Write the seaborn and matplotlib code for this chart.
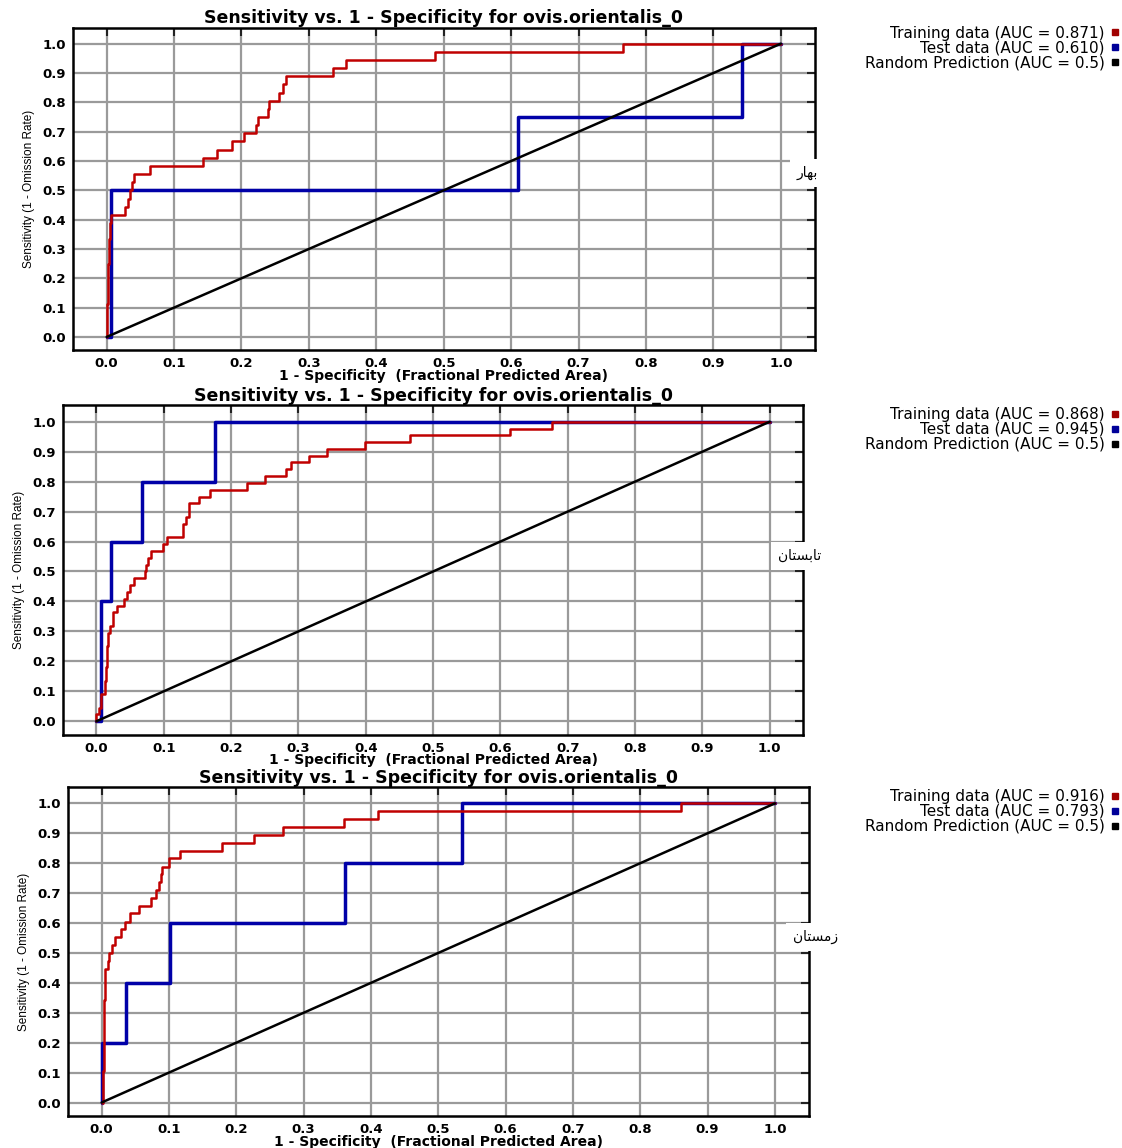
#ROC curves (MaxEnt output) for ovis.orientalis, three seasons stacked

import seaborn as sns
import matplotlib.pyplot as plt
from matplotlib.lines import Line2D

# step points: at each fpr the curve jumps up to the matching tpr
spring_train_fpr = [0.0, 0.0, 0.002, 0.004, 0.005, 0.007, 0.027, 0.031, 0.034, 0.037, 0.041, 0.064, 0.143,
                    0.164, 0.186, 0.204, 0.222, 0.224, 0.239, 0.241, 0.255, 0.262, 0.266, 0.336, 0.355,
                    0.487, 0.766, 1.0]
spring_train_tpr = [0.0, 0.111, 0.25, 0.333, 0.389, 0.417, 0.444, 0.472, 0.5, 0.528, 0.556, 0.583, 0.611,
                    0.639, 0.667, 0.694, 0.722, 0.75, 0.778, 0.806, 0.833, 0.861, 0.889, 0.917, 0.944,
                    0.972, 1.0, 1.0]
spring_test_fpr = [0.0, 0.006, 0.007, 0.61, 0.942, 1.0]
spring_test_tpr = [0.0, 0.25, 0.5, 0.75, 1.0, 1.0]

summer_train_fpr = [0.0, 0.0, 0.004, 0.006, 0.012, 0.013, 0.014, 0.015, 0.017, 0.02, 0.025, 0.031, 0.041,
                    0.046, 0.05, 0.055, 0.072, 0.074, 0.077, 0.081, 0.099, 0.104, 0.128, 0.129, 0.133,
                    0.137, 0.152, 0.168, 0.223, 0.251, 0.282, 0.289, 0.316, 0.342, 0.399, 0.466, 0.614,
                    0.676, 1.0]
summer_train_tpr = [0.0, 0.023, 0.045, 0.091, 0.114, 0.136, 0.182, 0.25, 0.295, 0.318, 0.364, 0.386, 0.409,
                    0.432, 0.455, 0.477, 0.5, 0.523, 0.545, 0.568, 0.591, 0.614, 0.636, 0.659, 0.682,
                    0.727, 0.75, 0.773, 0.795, 0.818, 0.841, 0.864, 0.886, 0.909, 0.932, 0.955, 0.977,
                    1.0, 1.0]
summer_test_fpr = [0.0, 0.007, 0.021, 0.067, 0.176, 1.0]
summer_test_tpr = [0.0, 0.4, 0.6, 0.8, 1.0, 1.0]

winter_train_fpr = [0.0, 0.002, 0.003, 0.005, 0.009, 0.011, 0.015, 0.02, 0.029, 0.035, 0.042, 0.055, 0.073,
                    0.08, 0.085, 0.088, 0.09, 0.1, 0.116, 0.179, 0.227, 0.269, 0.36, 0.41, 0.86, 1.0]
winter_train_tpr = [0.0, 0.105, 0.342, 0.447, 0.474, 0.5, 0.526, 0.553, 0.579, 0.605, 0.632, 0.658, 0.684,
                    0.711, 0.737, 0.763, 0.789, 0.816, 0.842, 0.868, 0.895, 0.921, 0.947, 0.974, 1.0, 1.0]
winter_test_fpr = [0.0, 0.0, 0.036, 0.102, 0.361, 0.535, 1.0]
winter_test_tpr = [0.0, 0.2, 0.4, 0.6, 0.8, 1.0, 1.0]

random_x = [0.0, 1.0]
random_y = [0.0, 1.0]

train_auc = ["0.871", "0.868", "0.916"]
test_auc = ["0.610", "0.945", "0.793"]

# season names (spring, summer, winter) written as shaped Arabic-script glyphs in visual order
season_labels = ["\uFEAD\uFE8E\uFEEC\uFE91",
                 "\uFEE5\uFE8E\uFE98\uFEB4\uFE91\uFE8E\uFE97",
                 "\uFEE5\uFE8E\uFE98\uFEB4\uFEE3\uFEAF"]

tick_values = [0.0, 0.1, 0.2, 0.3, 0.4, 0.5, 0.6, 0.7, 0.8, 0.9, 1.0]
tick_labels = ["0.0", "0.1", "0.2", "0.3", "0.4", "0.5", "0.6", "0.7", "0.8", "0.9", "1.0"]

title = "Sensitivity vs. 1 - Specificity for ovis.orientalis_0"

RED = "#c00000"
BLUE = "#0000a8"
LEG_RED = "#a00000"
LEG_BLUE = "#000099"

sns.set_theme(style="whitegrid", rc={'text.color': 'black', 'axes.labelcolor': 'black',
                                     'xtick.color': 'black', 'ytick.color': 'black'})
plt.rcParams['font.family'] = ['DejaVu Sans']

fig = plt.figure(figsize=(11.22, 11.48), dpi=100)

panels = [
    ([0.065, 0.695, 0.661, 0.281], spring_train_fpr, spring_train_tpr, spring_test_fpr, spring_test_tpr,
     0.9775, 0.99, 0.548),
    ([0.056, 0.360, 0.660, 0.287], summer_train_fpr, summer_train_tpr, summer_test_fpr, summer_test_tpr,
     0.6456, 0.995, 0.542),
    ([0.0606, 0.0279, 0.660, 0.2866], winter_train_fpr, winter_train_tpr, winter_test_fpr, winter_test_tpr,
     0.3128, 1.009, 0.544),
]

for i, (pos, train_x, train_y, test_x, test_y, leg_top, lab_x, lab_y) in enumerate(panels):
    ax = fig.add_axes(pos)
    sns.lineplot(x=test_x, y=test_y, ax=ax, color=BLUE, linewidth=2.5, drawstyle='steps-post',
                 estimator=None, sort=False)
    sns.lineplot(x=train_x, y=train_y, ax=ax, color=RED, linewidth=1.8, drawstyle='steps-post',
                 estimator=None, sort=False)
    sns.lineplot(x=random_x, y=random_y, ax=ax, color='black', linewidth=1.8,
                 estimator=None, sort=False)

    ax.set_xlim(-0.05, 1.05)
    ax.set_ylim(-0.045, 1.055)
    ax.set_xticks(tick_values)
    ax.set_xticklabels(tick_labels, fontweight='bold')
    ax.set_yticks(tick_values)
    ax.set_yticklabels(tick_labels, fontweight='bold')
    ax.tick_params(direction='in', length=6, width=1.5, color='#222222', top=True, right=True,
                   labelsize=9.5, pad=5, labelcolor='black')
    ax.grid(True, color='#9a9a9a', linewidth=1.6)
    for sp in ax.spines.values():
        sp.set_color('black')
        sp.set_linewidth(1.8)

    ax.set_title(title, fontsize=12.5, fontweight='bold', pad=3)
    ax.set_xlabel("1 - Specificity  (Fractional Predicted Area)", fontsize=10, fontweight='bold',
                  labelpad=-1)
    ax.set_ylabel("Sensitivity (1 - Omission Rate)", fontsize=8.5,
                  family=['Liberation Sans', 'DejaVu Sans'], labelpad=5)

    ax.text(lab_x, lab_y, season_labels[i], transform=ax.transAxes, ha='center', va='center',
            fontsize=10, family=['DejaVu Sans'], zorder=10, clip_on=False,
            bbox=dict(facecolor='white', edgecolor='none', pad=5))

    handles = [Line2D([], [], marker='s', linestyle='', color=c, markersize=5)
               for c in [LEG_RED, LEG_BLUE, 'black']]
    labels = ["Training data (AUC = %s)" % train_auc[i],
              "Test data (AUC = %s)" % test_auc[i],
              "Random Prediction (AUC = 0.5)"]
    ax.legend(handles, labels, loc='upper right', bbox_to_anchor=(0.998, leg_top),
              bbox_transform=fig.transFigure, markerfirst=False, frameon=False, fontsize=11,
              labelspacing=0.0, handlelength=0.6, handletextpad=0.4, borderpad=0, borderaxespad=0)

fig.savefig("out.png", dpi=100)
